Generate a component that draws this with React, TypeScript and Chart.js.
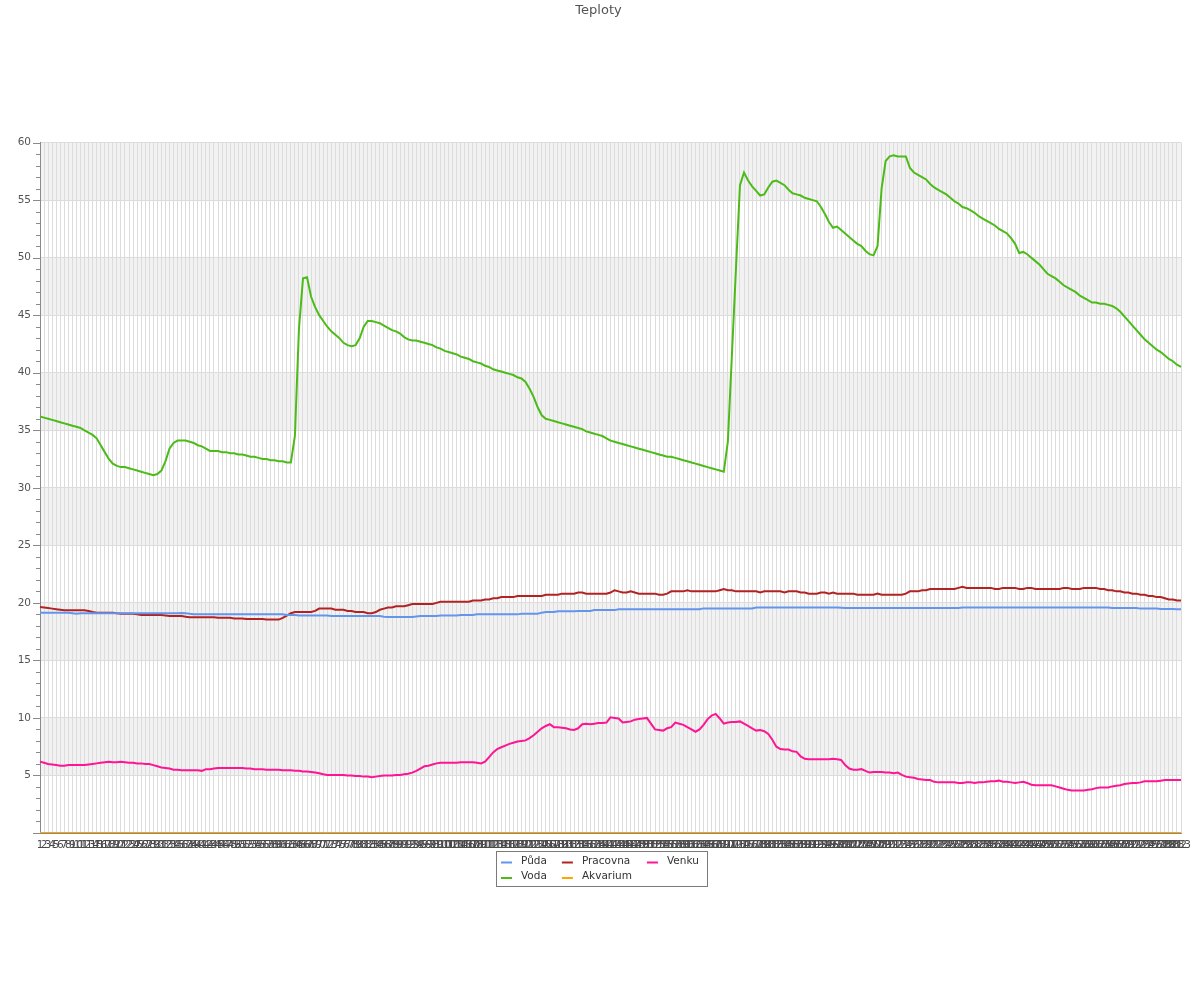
import React, { useEffect, useRef } from 'react';
import { Chart, registerables } from 'chart.js';

Chart.register(...registerables);

// ---- data ----
const pudaValues = [
  19.15, 19.15, 19.15, 19.15, 19.15, 19.15, 19.15, 19.15, 19.1, 19.05,
  19.1, 19.1, 19.1, 19.1, 19.1, 19.1, 19.1, 19.1, 19.1, 19.1,
  19.1, 19.1, 19.1, 19.1, 19.1, 19.1, 19.1, 19.1, 19.1, 19.1,
  19.1, 19.1, 19.1, 19.1, 19.1, 19.12, 19.1, 19.05, 19.02, 19.0,
  19.0, 19.0, 19.0, 19.0, 19.0, 19.0, 19.0, 19.0, 19.0, 19.0,
  19.0, 19.0, 19.0, 19.0, 19.0, 19.0, 19.0, 19.0, 19.0, 19.0,
  19.0, 18.95, 18.95, 18.95, 18.9, 18.9, 18.9, 18.9, 18.9, 18.9,
  18.9, 18.9, 18.85, 18.85, 18.85, 18.85, 18.85, 18.85, 18.85, 18.85,
  18.85, 18.85, 18.85, 18.85, 18.85, 18.8, 18.77, 18.77, 18.77, 18.77,
  18.77, 18.77, 18.77, 18.82, 18.85, 18.85, 18.85, 18.85, 18.85, 18.9,
  18.9, 18.9, 18.9, 18.9, 18.95, 18.95, 18.95, 18.95, 19.0, 19.0,
  19.0, 19.0, 19.0, 19.0, 19.0, 19.0, 19.0, 19.0, 19.0, 19.05,
  19.05, 19.05, 19.05, 19.05, 19.15, 19.2, 19.2, 19.2, 19.28, 19.28,
  19.28, 19.28, 19.28, 19.3, 19.3, 19.3, 19.3, 19.37, 19.37, 19.37,
  19.37, 19.37, 19.37, 19.45, 19.45, 19.45, 19.45, 19.45, 19.45, 19.45,
  19.45, 19.45, 19.45, 19.45, 19.45, 19.45, 19.45, 19.45, 19.45, 19.45,
  19.45, 19.45, 19.45, 19.45, 19.52, 19.52, 19.52, 19.52, 19.52, 19.52,
  19.52, 19.52, 19.52, 19.52, 19.52, 19.52, 19.52, 19.6, 19.6, 19.6,
  19.6, 19.6, 19.6, 19.6, 19.6, 19.6, 19.6, 19.6, 19.6, 19.6,
  19.6, 19.6, 19.6, 19.6, 19.6, 19.6, 19.6, 19.6, 19.58, 19.56,
  19.55, 19.55, 19.55, 19.55, 19.55, 19.55, 19.55, 19.55, 19.55, 19.55,
  19.55, 19.55, 19.55, 19.55, 19.55, 19.55, 19.55, 19.55, 19.55, 19.55,
  19.55, 19.55, 19.55, 19.55, 19.55, 19.55, 19.55, 19.55, 19.6, 19.6,
  19.6, 19.6, 19.6, 19.6, 19.6, 19.6, 19.6, 19.6, 19.6, 19.6,
  19.6, 19.6, 19.6, 19.6, 19.6, 19.6, 19.6, 19.6, 19.6, 19.6,
  19.6, 19.6, 19.6, 19.6, 19.6, 19.6, 19.6, 19.6, 19.6, 19.6,
  19.6, 19.6, 19.6, 19.6, 19.6, 19.55, 19.55, 19.55, 19.55, 19.55,
  19.55, 19.55, 19.5, 19.5, 19.5, 19.5, 19.5, 19.47, 19.47, 19.47,
  19.47, 19.45, 19.45,
];

const pracovnaValues = [
  19.65, 19.6, 19.55, 19.5, 19.45, 19.4, 19.35, 19.35, 19.35, 19.35,
  19.35, 19.35, 19.3, 19.2, 19.15, 19.15, 19.15, 19.15, 19.15, 19.1,
  19.05, 19.05, 19.05, 19.05, 19.0, 18.95, 18.95, 18.95, 18.95, 18.95,
  18.95, 18.9, 18.85, 18.85, 18.85, 18.85, 18.8, 18.75, 18.75, 18.75,
  18.75, 18.75, 18.75, 18.75, 18.7, 18.7, 18.7, 18.7, 18.65, 18.65,
  18.65, 18.6, 18.6, 18.6, 18.6, 18.6, 18.55, 18.55, 18.55, 18.55,
  18.7, 18.9, 19.1, 19.2, 19.2, 19.2, 19.2, 19.2, 19.3, 19.5,
  19.5, 19.5, 19.5, 19.4, 19.4, 19.4, 19.3, 19.3, 19.2, 19.2,
  19.2, 19.1, 19.1, 19.2, 19.4, 19.5, 19.6, 19.6, 19.7, 19.7,
  19.7, 19.8, 19.9, 19.9, 19.9, 19.9, 19.9, 19.9, 20.0, 20.1,
  20.1, 20.1, 20.1, 20.1, 20.1, 20.1, 20.1, 20.2, 20.2, 20.2,
  20.3, 20.3, 20.4, 20.4, 20.5, 20.5, 20.5, 20.5, 20.6, 20.6,
  20.6, 20.6, 20.6, 20.6, 20.6, 20.7, 20.7, 20.7, 20.7, 20.8,
  20.8, 20.8, 20.8, 20.9, 20.9, 20.8, 20.8, 20.8, 20.8, 20.8,
  20.8, 20.9, 21.1, 21.0, 20.9, 20.9, 21.0, 20.9, 20.8, 20.8,
  20.8, 20.8, 20.8, 20.7, 20.7, 20.8, 21.0, 21.0, 21.0, 21.0,
  21.1, 21.0, 21.0, 21.0, 21.0, 21.0, 21.0, 21.0, 21.1, 21.2,
  21.1, 21.1, 21.0, 21.0, 21.0, 21.0, 21.0, 21.0, 20.9, 21.0,
  21.0, 21.0, 21.0, 21.0, 20.9, 21.0, 21.0, 21.0, 20.9, 20.9,
  20.8, 20.8, 20.8, 20.9, 20.9, 20.8, 20.9, 20.8, 20.8, 20.8,
  20.8, 20.8, 20.7, 20.7, 20.7, 20.7, 20.7, 20.8, 20.7, 20.7,
  20.7, 20.7, 20.7, 20.7, 20.8, 21.0, 21.0, 21.0, 21.1, 21.1,
  21.2, 21.2, 21.2, 21.2, 21.2, 21.2, 21.2, 21.3, 21.4, 21.3,
  21.3, 21.3, 21.3, 21.3, 21.3, 21.3, 21.2, 21.2, 21.3, 21.3,
  21.3, 21.3, 21.2, 21.2, 21.3, 21.3, 21.2, 21.2, 21.2, 21.2,
  21.2, 21.2, 21.2, 21.3, 21.3, 21.2, 21.2, 21.2, 21.3, 21.3,
  21.3, 21.3, 21.2, 21.2, 21.1, 21.1, 21.0, 21.0, 20.9, 20.9,
  20.8, 20.8, 20.7, 20.7, 20.6, 20.6, 20.5, 20.5, 20.4, 20.3,
  20.3, 20.2, 20.2,
];

const venkuValues = [
  6.2, 6.1, 6.0, 5.95, 5.9, 5.85, 5.85, 5.9, 5.9, 5.9,
  5.9, 5.9, 5.95, 6.0, 6.05, 6.1, 6.15, 6.2, 6.15, 6.15,
  6.2, 6.15, 6.1, 6.1, 6.05, 6.05, 6.0, 6.0, 5.9, 5.8,
  5.7, 5.65, 5.6, 5.5, 5.5, 5.45, 5.45, 5.45, 5.45, 5.45,
  5.4, 5.55, 5.55, 5.6, 5.65, 5.65, 5.65, 5.65, 5.65, 5.65,
  5.65, 5.6, 5.6, 5.55, 5.55, 5.55, 5.5, 5.5, 5.5, 5.5,
  5.45, 5.45, 5.45, 5.4, 5.4, 5.35, 5.35, 5.3, 5.25, 5.2,
  5.1, 5.05, 5.05, 5.05, 5.05, 5.05, 5.0, 5.0, 4.95, 4.95,
  4.9, 4.9, 4.85, 4.9, 4.95, 5.0, 5.0, 5.0, 5.05, 5.05,
  5.1, 5.15, 5.25, 5.4, 5.6, 5.8, 5.85, 5.95, 6.05, 6.1,
  6.1, 6.1, 6.1, 6.1, 6.15, 6.15, 6.15, 6.15, 6.1, 6.05,
  6.2, 6.6, 7.0, 7.3, 7.45, 7.6, 7.75, 7.85, 7.95, 8.0,
  8.05, 8.25, 8.5, 8.8, 9.1, 9.3, 9.45, 9.2, 9.2, 9.15,
  9.1, 9.0, 8.95, 9.1, 9.45, 9.5, 9.45, 9.5, 9.55, 9.55,
  9.6, 10.05, 10.0, 9.95, 9.6, 9.65, 9.7, 9.85, 9.9, 9.95,
  10.0, 9.5, 9.0, 8.95, 8.9, 9.1, 9.2, 9.6, 9.5, 9.4,
  9.2, 9.0, 8.8, 9.0, 9.4, 9.9, 10.2, 10.35, 9.95, 9.5,
  9.6, 9.65, 9.65, 9.7, 9.5, 9.3, 9.1, 8.9, 8.95, 8.85,
  8.6, 8.1, 7.5, 7.3, 7.25, 7.25, 7.1, 7.05, 6.65, 6.45,
  6.4, 6.4, 6.4, 6.4, 6.4, 6.4, 6.45, 6.4, 6.35, 5.9,
  5.6, 5.5, 5.5, 5.55, 5.4, 5.25, 5.3, 5.3, 5.3, 5.25,
  5.25, 5.2, 5.25, 5.05, 4.9, 4.85, 4.8, 4.7, 4.65, 4.6,
  4.6, 4.45, 4.4, 4.4, 4.4, 4.4, 4.4, 4.35, 4.35, 4.4,
  4.4, 4.35, 4.4, 4.4, 4.45, 4.5, 4.5, 4.55, 4.45, 4.45,
  4.4, 4.35, 4.4, 4.45, 4.35, 4.2, 4.15, 4.15, 4.15, 4.15,
  4.15, 4.05, 3.95, 3.85, 3.75, 3.7, 3.7, 3.7, 3.7, 3.75,
  3.8, 3.9, 3.95, 3.95, 3.95, 4.05, 4.1, 4.15, 4.25, 4.3,
  4.35, 4.35, 4.4, 4.5, 4.5, 4.5, 4.5, 4.55, 4.6, 4.6,
  4.6, 4.6, 4.6,
];

const vodaValues = [
  36.2, 36.1, 36.0, 35.9, 35.8, 35.7, 35.6, 35.5, 35.4, 35.3,
  35.2, 35.0, 34.8, 34.6, 34.3, 33.7, 33.1, 32.5, 32.1, 31.9,
  31.8, 31.8, 31.7, 31.6, 31.5, 31.4, 31.3, 31.2, 31.1, 31.2,
  31.5, 32.3, 33.4, 33.9, 34.1, 34.1, 34.1, 34.0, 33.9, 33.7,
  33.6, 33.4, 33.2, 33.2, 33.2, 33.1, 33.1, 33.0, 33.0, 32.9,
  32.9, 32.8, 32.7, 32.7, 32.6, 32.5, 32.5, 32.4, 32.4, 32.3,
  32.3, 32.2, 32.2, 34.5, 43.8, 48.2, 48.3, 46.6, 45.7, 45.0,
  44.5, 44.0, 43.6, 43.3, 43.0, 42.6, 42.4, 42.3, 42.4, 43.0,
  44.0, 44.5, 44.5, 44.4, 44.3, 44.1, 43.9, 43.7, 43.6, 43.4,
  43.1, 42.9, 42.8, 42.8, 42.7, 42.6, 42.5, 42.4, 42.2, 42.1,
  41.9, 41.8, 41.7, 41.6, 41.4, 41.3, 41.2, 41.0, 40.9, 40.8,
  40.6, 40.5, 40.3, 40.2, 40.1, 40.0, 39.9, 39.8, 39.6, 39.5,
  39.2, 38.6, 37.9, 37.0, 36.3, 36.0, 35.9, 35.8, 35.7, 35.6,
  35.5, 35.4, 35.3, 35.2, 35.1, 34.9, 34.8, 34.7, 34.6, 34.5,
  34.3, 34.1, 34.0, 33.9, 33.8, 33.7, 33.6, 33.5, 33.4, 33.3,
  33.2, 33.1, 33.0, 32.9, 32.8, 32.7, 32.7, 32.6, 32.5, 32.4,
  32.3, 32.2, 32.1, 32.0, 31.9, 31.8, 31.7, 31.6, 31.5, 31.4,
  34.0, 41.5, 49.0, 56.3, 57.4, 56.7, 56.2, 55.8, 55.4, 55.5,
  56.1, 56.6, 56.7, 56.5, 56.3, 55.9, 55.6, 55.5, 55.4, 55.2,
  55.1, 55.0, 54.9, 54.4, 53.8, 53.1, 52.6, 52.7, 52.4, 52.1,
  51.8, 51.5, 51.2, 51.0, 50.6, 50.3, 50.2, 51.0, 56.0, 58.4,
  58.8, 58.9, 58.8, 58.8, 58.8, 57.8, 57.4, 57.2, 57.0, 56.8,
  56.4, 56.1, 55.9, 55.7, 55.5, 55.2, 54.9, 54.7, 54.4, 54.3,
  54.1, 53.9, 53.6, 53.4, 53.2, 53.0, 52.8, 52.5, 52.3, 52.1,
  51.7, 51.2, 50.4, 50.5, 50.3, 50.0, 49.7, 49.4, 49.0, 48.6,
  48.4, 48.2, 47.9, 47.6, 47.4, 47.2, 47.0, 46.7, 46.5, 46.3,
  46.1, 46.1, 46.0, 46.0, 45.9, 45.8, 45.6, 45.3, 44.9, 44.5,
  44.1, 43.7, 43.3, 42.9, 42.6, 42.3, 42.0, 41.8, 41.5, 41.2,
  41.0, 40.7, 40.5,
];

const akvariumValues = [
  0, 0, 0, 0, 0, 0, 0, 0, 0, 0, 0, 0, 0, 0, 0, 0, 0, 0, 0, 0,
  0, 0, 0, 0, 0, 0, 0, 0, 0, 0, 0, 0, 0, 0, 0, 0, 0, 0, 0, 0,
  0, 0, 0, 0, 0, 0, 0, 0, 0, 0, 0, 0, 0, 0, 0, 0, 0, 0, 0, 0,
  0, 0, 0, 0, 0, 0, 0, 0, 0, 0, 0, 0, 0, 0, 0, 0, 0, 0, 0, 0,
  0, 0, 0, 0, 0, 0, 0, 0, 0, 0, 0, 0, 0, 0, 0, 0, 0, 0, 0, 0,
  0, 0, 0, 0, 0, 0, 0, 0, 0, 0, 0, 0, 0, 0, 0, 0, 0, 0, 0, 0,
  0, 0, 0, 0, 0, 0, 0, 0, 0, 0, 0, 0, 0, 0, 0, 0, 0, 0, 0, 0,
  0, 0, 0, 0, 0, 0, 0, 0, 0, 0, 0, 0, 0, 0, 0, 0, 0, 0, 0, 0,
  0, 0, 0, 0, 0, 0, 0, 0, 0, 0, 0, 0, 0, 0, 0, 0, 0, 0, 0, 0,
  0, 0, 0, 0, 0, 0, 0, 0, 0, 0, 0, 0, 0, 0, 0, 0, 0, 0, 0, 0,
  0, 0, 0, 0, 0, 0, 0, 0, 0, 0, 0, 0, 0, 0, 0, 0, 0, 0, 0, 0,
  0, 0, 0, 0, 0, 0, 0, 0, 0, 0, 0, 0, 0, 0, 0, 0, 0, 0, 0, 0,
  0, 0, 0, 0, 0, 0, 0, 0, 0, 0, 0, 0, 0, 0, 0, 0, 0, 0, 0, 0,
  0, 0, 0, 0, 0, 0, 0, 0, 0, 0, 0, 0, 0, 0, 0, 0, 0, 0, 0, 0,
  0, 0, 0,
];

// category labels 1..N (one per reading)
const xLabels = vodaValues.map((_, i) => String(i + 1));

const seriesNames = ['Půda', 'Pracovna', 'Venku', 'Voda', 'Akvarium'];
const seriesColors = ['#6495ED', '#B22222', '#FF1493', '#4CBB17', '#FFA500'];
const seriesValues = [pudaValues, pracovnaValues, venkuValues, vodaValues, akvariumValues];

const bandRanges = [[5, 10], [15, 20], [25, 30], [35, 40], [45, 50], [55, 60]];
const yMin = 0;
const yMax = 60;
const yMajorStep = 5;

const FONT = "'DejaVu Sans', sans-serif";

const bandsPlugin = {
  id: 'bands',
  beforeDraw(chart: any) {
    const { ctx, chartArea, scales } = chart;
    const y = scales.y;
    ctx.save();
    ctx.fillStyle = '#f2f2f2';
    for (const [lo, hi] of bandRanges) {
      const top = y.getPixelForValue(hi);
      const bot = y.getPixelForValue(lo);
      ctx.fillRect(chartArea.left, top, chartArea.right - chartArea.left, bot - top);
    }
    ctx.restore();
  },
};

const yTickMarksPlugin = {
  id: 'yTickMarks',
  afterDraw(chart: any) {
    const { ctx, chartArea, scales } = chart;
    const y = scales.y;
    ctx.save();
    ctx.strokeStyle = '#8a8a8a';
    ctx.lineWidth = 1;
    for (const t of y.ticks) {
      const py = Math.round(y.getPixelForValue(t.value)) + 0.5;
      const len = t.value % yMajorStep === 0 ? 7 : 4;
      ctx.beginPath();
      ctx.moveTo(chartArea.left - len, py);
      ctx.lineTo(chartArea.left, py);
      ctx.stroke();
    }
    ctx.restore();
  },
};

const boxLegendPlugin = {
  id: 'boxLegend',
  afterDraw(chart: any) {
    const { ctx, chartArea } = chart;
    const ds = chart.data.datasets;
    const cols = 3;
    const rows = Math.ceil(ds.length / cols);
    const sampleW = 11;
    const gap = 9;
    const colGap = 15;
    const padL = 5;
    const padR = 8;
    const rowH = 15.5;
    const padT = 10;
    const padB = 9.5;
    ctx.save();
    ctx.font = `10.5px ${FONT}`;
    const colW: number[] = [];
    for (let c = 0; c < cols; c++) {
      let m = 0;
      for (let r = 0; r < rows; r++) {
        const d = ds[r * cols + c];
        if (d) m = Math.max(m, ctx.measureText(d.label).width);
      }
      colW.push(sampleW + gap + m);
    }
    const totalW = padL + colW.reduce((a, b) => a + b, 0) + colGap * (cols - 1) + padR;
    const totalH = padT + rowH * (rows - 1) + padB;
    const left = Math.round(chart.width / 2 - totalW / 2) + 1;
    const top = Math.round(chartArea.bottom + 17.5);
    ctx.strokeStyle = '#7a7a7a';
    ctx.lineWidth = 1;
    ctx.strokeRect(left + 0.5, top + 0.5, Math.round(totalW), Math.round(totalH));
    ctx.textBaseline = 'middle';
    ctx.textAlign = 'left';
    for (let i = 0; i < ds.length; i++) {
      const r = Math.floor(i / cols);
      const c = i % cols;
      let x = left + padL;
      for (let k = 0; k < c; k++) x += colW[k] + colGap;
      const cy = top + padT + r * rowH;
      ctx.strokeStyle = ds[i].borderColor;
      ctx.lineWidth = 2;
      ctx.beginPath();
      ctx.moveTo(x, cy + 1.5);
      ctx.lineTo(x + sampleW, cy + 1.5);
      ctx.stroke();
      ctx.fillStyle = '#333333';
      ctx.fillText(ds[i].label, x + sampleW + gap, cy);
    }
    ctx.restore();
  },
};

export default function App() {
  const canvasRef = useRef<HTMLCanvasElement | null>(null);

  useEffect(() => {
    const canvas = canvasRef.current;
    if (!canvas) return;
    const chart = new Chart(canvas, {
      type: 'line',
      data: {
        labels: xLabels,
        datasets: seriesNames.map((name, i) => ({
          label: name,
          data: seriesValues[i],
          borderColor: seriesColors[i],
          backgroundColor: seriesColors[i],
          borderWidth: 2,
          pointRadius: 0,
          pointHoverRadius: 0,
          tension: 0,
          fill: false,
        })),
      },
      options: {
        responsive: false,
        animation: false,
        layout: { padding: { left: 0, right: 3, top: 0, bottom: 147 } },
        plugins: {
          legend: { display: false },
          tooltip: { enabled: false },
          title: {
            display: true,
            text: 'Teploty',
            color: '#545454',
            font: { family: FONT, size: 13, weight: 'normal' },
            padding: { top: 3, bottom: 124 },
          },
        },
        scales: {
          x: {
            grid: { color: '#dcdcdc', lineWidth: 1, drawTicks: false },
            border: { color: '#8a8a8a' },
            ticks: {
              autoSkip: false,
              maxRotation: 0,
              minRotation: 0,
              padding: 6,
              color: '#4a4a4a',
              font: { family: FONT, size: 10.5 },
            },
            afterFit: (s: any) => {
              s.height = 20;
            },
          },
          y: {
            min: yMin,
            max: yMax,
            border: { color: '#8a8a8a' },
            grid: {
              drawTicks: false,
              color: (c: any) =>
                c.tick && c.tick.value % yMajorStep === 0 ? '#dcdcdc' : 'rgba(0,0,0,0)',
            },
            ticks: {
              stepSize: 1,
              autoSkip: false,
              padding: 9,
              color: '#545454',
              font: { family: FONT, size: 10.5 },
              callback: (v: any) => (Number(v) % yMajorStep === 0 && Number(v) !== 0 ? String(v) : ''),
            },
            afterFit: (s: any) => {
              s.width = 40;
            },
          },
          // empty spacer on the right (keeps plot edge and centred title in place)
          spacer: {
            type: 'linear',
            position: 'right',
            display: true,
            grid: { display: false, drawTicks: false },
            border: { display: false },
            ticks: { display: false },
            afterFit: (s: any) => {
              s.width = 16;
            },
          },
        },
      },
      plugins: [bandsPlugin, yTickMarksPlugin, boxLegendPlugin],
    });
    return () => chart.destroy();
  }, []);

  return (
    <div style={{ position: 'absolute', left: 0, top: 0, width: 1200, height: 1000 }}>
      <canvas ref={canvasRef} width={1200} height={1000} />
    </div>
  );
}
